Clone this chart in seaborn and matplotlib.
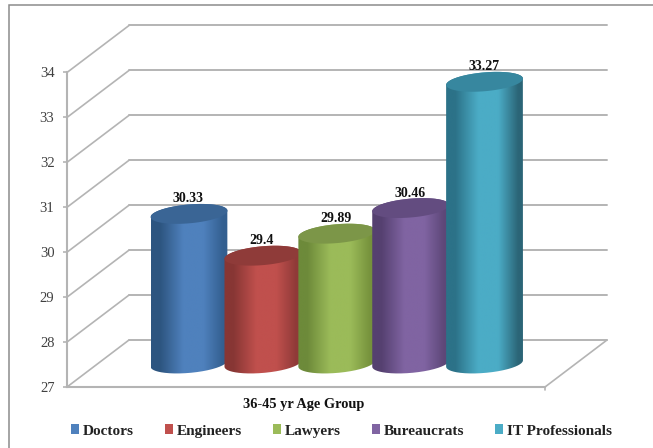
import numpy as np
import pandas as pd
import seaborn as sns
import matplotlib
matplotlib.use("Agg")
import matplotlib.pyplot as plt
from matplotlib.colors import LinearSegmentedColormap
from matplotlib.patches import Patch, PathPatch, Rectangle
from matplotlib.path import Path
from matplotlib.transforms import Affine2D, IdentityTransform

# Values
group = "36-45 yr Age Group"
professions = ["Doctors", "Engineers", "Lawyers", "Bureaucrats", "IT Professionals"]
values = [30.33, 29.4, 29.89, 30.46, 33.27]
value_labels = ["30.33", "29.4", "29.89", "30.46", "33.27"]
y_ticks = [27, 28, 29, 30, 31, 32, 33, 34]

# Colours: legend swatch, shaded edge, cap
base_colors = ["#4f81bd", "#c0504d", "#9bbb59", "#8064a2", "#4bacc6"]
left_edges = ["#2d5580", "#873634", "#6d8a3a", "#554070", "#2c7288"]
right_edges = ["#335f90", "#8f3a38", "#76923c", "#5d4778", "#2b6577"]
cap_colors = ["#3a6595", "#8f3b39", "#7c9648", "#634c80", "#37879f"]

GRID = "#b4b4b4"
SERIF = "Liberation Serif"

W, H = 653, 448
sns.set_theme(style="white")
plt.rcParams["font.family"] = SERIF

fig = plt.figure(figsize=(W / 100, H / 100), dpi=100, facecolor="white")
# The axes is the front plane of the box; the walls are offset behind it
ax = fig.add_axes([67 / W, 1 - 387 / H, 478 / W, 314.5 / H])

df = pd.DataFrame({"group": group, "profession": professions, "value": values})
sns.barplot(data=df, x="group", y="value", hue="profession", hue_order=professions,
            palette=base_colors, width=1.0, legend=False, ax=ax)
ax.autoscale(False)
ax.set_xlim(-0.641, 0.653)
ax.set_ylim(27, 34)
ax.set_facecolor("none")
ax.set_yticks(y_ticks)
ax.set_ylabel("")
ax.set_xlabel("")

for side in ("top", "right"):
    ax.spines[side].set_visible(False)
for side in ("left", "bottom"):
    ax.spines[side].set_color(GRID)
    ax.spines[side].set_linewidth(1.5)
ax.tick_params(axis="y", length=3, width=1.2, color=GRID, labelcolor="#404040",
               labelsize=10.5, pad=6, left=True)
ax.tick_params(axis="x", length=0, labelcolor="#111111", labelsize=10.4, pad=8)
for tick in ax.get_xticklabels():
    tick.set_fontweight("bold")

# Depth of the box, in pixels
DX, DY = 62, 47
back = ax.transData + Affine2D().translate(DX, DY)
mid = ax.transData + Affine2D().translate(DX / 2 + 2, DY / 2)
x0, x1 = ax.get_xlim()

# Back wall gridlines and side wall diagonals
for v in y_ticks:
    ax.plot([x0, x1], [v, v], color=GRID, lw=1.4, transform=back, clip_on=False, zorder=1)
    a = ax.transData.transform((x0, v))
    b = back.transform((x0, v))
    ax.plot([a[0], b[0]], [a[1], b[1]], color=GRID, lw=1.2,
            transform=IdentityTransform(), clip_on=False, zorder=1)
a = ax.transData.transform((x1, 27))
b = back.transform((x1, 27))
ax.plot([a[0], b[0]], [a[1], b[1]], color=GRID, lw=1.2,
        transform=IdentityTransform(), clip_on=False, zorder=1)
ax.plot([a[0], a[0]], [a[1], a[1] - 3], color=GRID, lw=1.2,
        transform=IdentityTransform(), clip_on=False, zorder=1)

# Cylinders, shaped from the bars seaborn laid out
SEMI_B = 9.4
TILT = np.deg2rad(5)
t = np.linspace(0, 2 * np.pi, 720, endpoint=False)


def ellipse(cx, cy, a_px):
    ex = cx + a_px * np.cos(t) * np.cos(TILT) - SEMI_B * np.sin(t) * np.sin(TILT)
    ey = cy + a_px * np.cos(t) * np.sin(TILT) + SEMI_B * np.sin(t) * np.cos(TILT)
    return ex, ey


bars = [c[0] for c in ax.containers]
for i, bar in enumerate(bars):
    bar.set_visible(False)
    xc = bar.get_x() + bar.get_width() / 2
    top = mid.transform((xc, bar.get_height()))
    bottom = mid.transform((xc, 27))
    half_px = (mid.transform((bar.get_x() + bar.get_width(), 27))[0] - bottom[0]) * 1.04
    a_px = half_px / np.hypot(np.cos(TILT), (SEMI_B / half_px) * np.sin(TILT))

    tx, ty = ellipse(top[0], top[1], a_px)
    bx, by = ellipse(bottom[0], bottom[1], a_px)
    i_right, i_left = int(np.argmax(bx)), int(np.argmin(bx))
    # t grows counter-clockwise: right extreme over the top to the left, then back underneath
    upper = np.arange(i_right, i_right + ((i_left - i_right) % 720) + 1) % 720
    lower = np.arange(i_left, i_left + ((i_right - i_left) % 720) + 1) % 720
    verts = np.vstack([np.column_stack([bx[lower], by[lower]]),
                       np.column_stack([tx[upper], ty[upper]])])
    outline = PathPatch(Path(np.vstack([verts, verts[0]])), transform=IdentityTransform(),
                        facecolor="none", edgecolor="none")
    outline.set_clip_on(False)
    ax.add_patch(outline)

    cmap = LinearSegmentedColormap.from_list(
        professions[i],
        [(0, left_edges[i]), (0.12, left_edges[i]), (0.42, base_colors[i]),
         (0.68, base_colors[i]), (0.94, right_edges[i]), (1, right_edges[i])])
    grad = np.linspace(0, 1, 256).reshape(1, -1)
    xl, xr = bottom[0] - half_px, bottom[0] + half_px
    shade = ax.imshow(grad, cmap=cmap, aspect="auto", interpolation="bilinear",
                      extent=(xl, xr, bottom[1] - 15, top[1] + 15),
                      transform=IdentityTransform(), zorder=2 + i * 0.1)
    shade.set_clip_box(fig.bbox)
    shade.set_clip_path(outline)

    cap = PathPatch(Path(np.column_stack([tx, ty])), transform=IdentityTransform(),
                    facecolor=cap_colors[i], edgecolor="none",
                    zorder=2.05 + i * 0.1, clip_on=False)
    ax.add_patch(cap)

    ax.annotate(value_labels[i], xy=(xc, bar.get_height()), xycoords=mid,
                xytext=(-0.7, 10.8), textcoords="offset points", ha="center", va="center",
                fontsize=10, fontweight="bold", color="#111111", zorder=5,
                annotation_clip=False)

ax.set_xlim(x0, x1)
ax.set_ylim(27, 34)

# Legend along the bottom edge
handles = [Patch(facecolor=c, edgecolor="none", label=p) for c, p in zip(base_colors, professions)]
fig.legend(handles=handles, ncol=5, loc="center", bbox_to_anchor=(341.5 / W, 1 - 431 / H),
           frameon=False, prop={"family": SERIF, "weight": "bold", "size": 11},
           labelcolor="#222222", handlelength=0.55, handleheight=0.55, handletextpad=0.25,
           columnspacing=2.0)

# Chart-area frame, running off the right and bottom edges
fig.add_artist(Rectangle((9 / W, -0.2), 1.2, 1.2 - 5 / H, transform=fig.transFigure,
                         facecolor="none", edgecolor="#8c8c8c", lw=1.1))

fig.savefig("out.png", dpi=100)
